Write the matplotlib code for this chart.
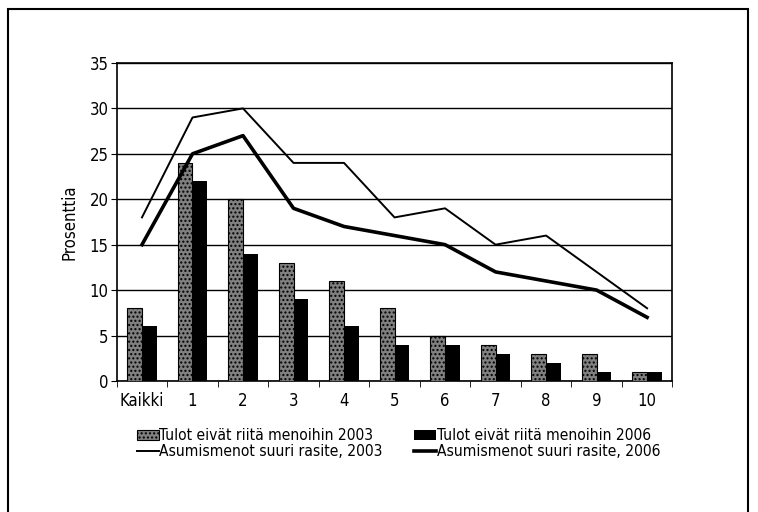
import numpy as np
import matplotlib.pyplot as plt
from matplotlib.patches import Rectangle

categories = ['Kaikki', '1', '2', '3', '4', '5', '6', '7', '8', '9', '10']
tulot_2003 = [8, 24, 20, 13, 11, 8, 5, 4, 3, 3, 1]
tulot_2006 = [6, 22, 14, 9, 6, 4, 4, 3, 2, 1, 1]
asumis_2003 = [18, 29, 30, 24, 24, 18, 19, 15, 16, 12, 8]
asumis_2006 = [15, 25, 27, 19, 17, 16, 15, 12, 11, 10, 7]

plt.rcParams['font.family'] = ['DejaVu Sans']
plt.rcParams['font.stretch'] = 'condensed'

fig = plt.figure(figsize=(7.58, 5.12), dpi=100, facecolor='white')
ax = fig.add_axes([0.154, 0.256, 0.733, 0.621])

x = np.arange(len(categories))
w = 0.29
b1 = ax.bar(x - w / 2, tulot_2003, width=w, facecolor='#808080', edgecolor='black',
            hatch='....', linewidth=0.8, zorder=3)
b2 = ax.bar(x + w / 2, tulot_2006, width=w, color='black', zorder=3)
l1, = ax.plot(x, asumis_2003, color='black', linewidth=1.4, zorder=4)
l2, = ax.plot(x, asumis_2006, color='black', linewidth=2.6, zorder=4)

ax.set_xlim(-0.5, len(categories) - 0.5)
ax.set_ylim(0, 35)
ax.set_yticks(range(0, 36, 5))
ax.yaxis.grid(True, color='black', linewidth=1.0, zorder=0)
ax.set_axisbelow(True)

ax.set_xticks(x)
ax.set_xticklabels(categories, fontsize=12)
ax.set_xticks(np.arange(-0.5, len(categories), 1), minor=True)
ax.tick_params(axis='x', which='major', length=0, pad=8)
ax.tick_params(axis='x', which='minor', length=4, direction='out')
ax.tick_params(axis='y', labelsize=12, length=4, pad=2, direction='out')
for s in ax.spines.values():
    s.set_color('black')
    s.set_linewidth(1.2)

ax.set_ylabel('Prosenttia', fontsize=12, labelpad=8)

# legend in column-major order: bars on first row, lines on second
handles = [b1, l1, b2, l2]
labels = ['Tulot eivät riitä menoihin 2003', 'Asumismenot suuri rasite, 2003',
          'Tulot eivät riitä menoihin 2006', 'Asumismenot suuri rasite, 2006']
ax.legend(handles, labels, loc='upper center', bbox_to_anchor=(0.507, -0.13), ncol=2,
          frameon=False, fontsize=11.2, handlelength=1.4, handleheight=0.55,
          handletextpad=0.05, columnspacing=2.0, labelspacing=0.05, borderaxespad=0)

# outer frame of the figure box
fig.patches.append(Rectangle((8 / 758, -0.1), 740 / 758, 1.1 - 9 / 512,
                             transform=fig.transFigure, fill=False,
                             edgecolor='black', linewidth=1.5))

fig.savefig('out.png', dpi=100)
